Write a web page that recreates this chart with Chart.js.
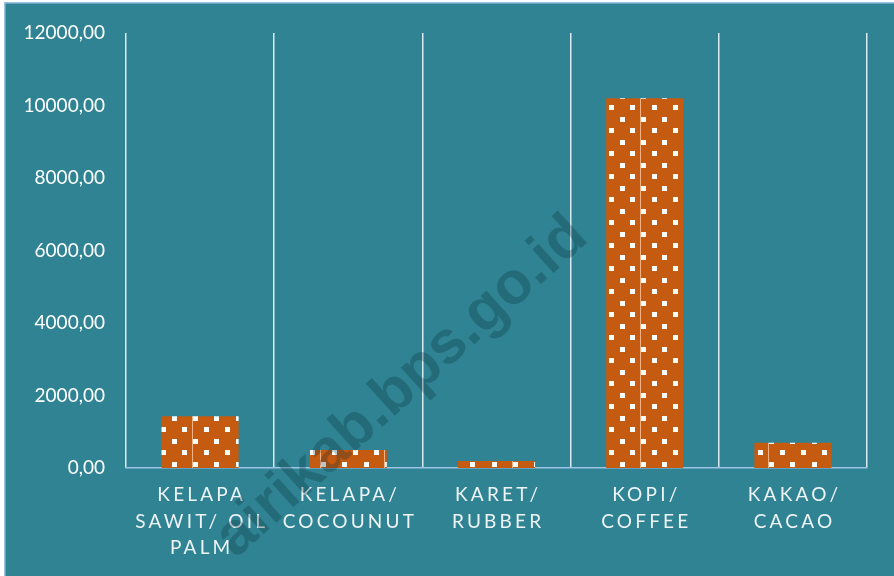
<!DOCTYPE html>
<html>
<head>
<meta charset="utf-8">
<script src="https://cdn.jsdelivr.net/npm/chart.js@4"></script>
<style>
  html, body { margin: 0; padding: 0; background: #fff; }
  #wrap { position: absolute; left: 0; top: 0; width: 894px; height: 576px; }
</style>
</head>
<body>
<div id="wrap"><canvas id="chart" width="894" height="576"></canvas></div>
<script>
const categories = [
  ['KELAPA', 'SAWIT/ OIL', 'PALM'],
  ['KELAPA/', 'COCOUNUT'],
  ['KARET/', 'RUBBER'],
  ['KOPI/', 'COFFEE'],
  ['KAKAO/', 'CACAO']
];
const values = [1430, 500, 190, 10200, 700];
const yMin = 0, yMax = 12000, yStep = 2000;
const watermark = 'airikab.bps.go.id';

// dotted orange fill
function makePattern() {
  const t = document.createElement('canvas');
  t.width = 64; t.height = 23;
  const c = t.getContext('2d');
  c.fillStyle = '#c55a11';
  c.fillRect(0, 0, 64, 23);
  c.fillStyle = '#f4b183';
  c.fillRect(0, 0, 1, 23);
  c.fillStyle = '#ffffff';
  [1, 22.3, 43.7].forEach(x => c.fillRect(Math.round(x), 2, 5, 5));
  [11.7, 33, 54.4].forEach(x => c.fillRect(Math.round(x), 13, 5, 5));
  return c.createPattern(t, 'repeat');
}

const bgPlugin = {
  id: 'bg',
  beforeDraw(chart) {
    const ctx = chart.ctx;
    ctx.save();
    ctx.fillStyle = '#ffffff';
    ctx.fillRect(0, 0, chart.width, chart.height);
    ctx.fillStyle = '#2f8393';
    ctx.fillRect(4, 2, chart.width - 4, chart.height - 2);
    ctx.fillStyle = '#9dc3e6';
    ctx.fillRect(4, 2, chart.width - 4, 1.5);
    ctx.fillRect(4, 2, 1.5, chart.height - 2);
    ctx.restore();
  }
};

const labelPlugin = {
  id: 'xlabels',
  afterDatasetsDraw(chart) {
    const ctx = chart.ctx;
    const xs = chart.scales.x;
    const sp = 3.2;
    ctx.save();
    ctx.font = '19px Lato';
    ctx.letterSpacing = sp + 'px';
    ctx.fillStyle = '#eef4f6';
    ctx.textAlign = 'center';
    ctx.textBaseline = 'middle';
    categories.forEach((lines, i) => {
      const x = xs.getPixelForTick(i) + sp / 2;
      lines.forEach((ln, j) => {
        ctx.fillText(ln, x, 495 + j * 26.5);
      });
    });
    ctx.restore();
  },
  afterDraw(chart) {
    const ctx = chart.ctx;
    ctx.save();
    ctx.translate(590, 240);
    ctx.rotate(-42 * Math.PI / 180);
    ctx.font = 'bold 60px "Liberation Sans"';
    ctx.fillStyle = 'rgba(10, 45, 55, 0.28)';
    ctx.textAlign = 'right';
    ctx.textBaseline = 'alphabetic';
    ctx.fillText(watermark, 0, 0);
    ctx.restore();
  }
};

new Chart(document.getElementById('chart'), {
  type: 'bar',
  data: {
    labels: categories,
    datasets: [{
      data: values,
      backgroundColor: makePattern(),
      borderWidth: 0,
      barPercentage: 0.52,
      categoryPercentage: 1
    }]
  },
  options: {
    responsive: false,
    animation: false,
    devicePixelRatio: 1,
    layout: { padding: { top: 33, right: 27, left: 0, bottom: 0 } },
    plugins: {
      legend: { display: false },
      tooltip: { enabled: false }
    },
    scales: {
      x: {
        grid: { display: true, offset: true, color: '#dbe9ef', lineWidth: 1.5, drawTicks: false },
        border: { display: true, color: '#9dc3e6', width: 1.5 },
        ticks: { display: false },
        afterFit(s) { s.height = 576 - 468; }
      },
      y: {
        min: yMin,
        max: yMax,
        grid: { display: false, drawTicks: false },
        border: { display: false },
        ticks: {
          stepSize: yStep,
          padding: 21,
          color: '#ffffff',
          font: { family: 'Lato', size: 19 },
          callback: v => v.toFixed(2).replace('.', ',')
        },
        afterFit(s) { s.width = 126; }
      }
    }
  },
  plugins: [bgPlugin, labelPlugin]
});
</script>
</body>
</html>
